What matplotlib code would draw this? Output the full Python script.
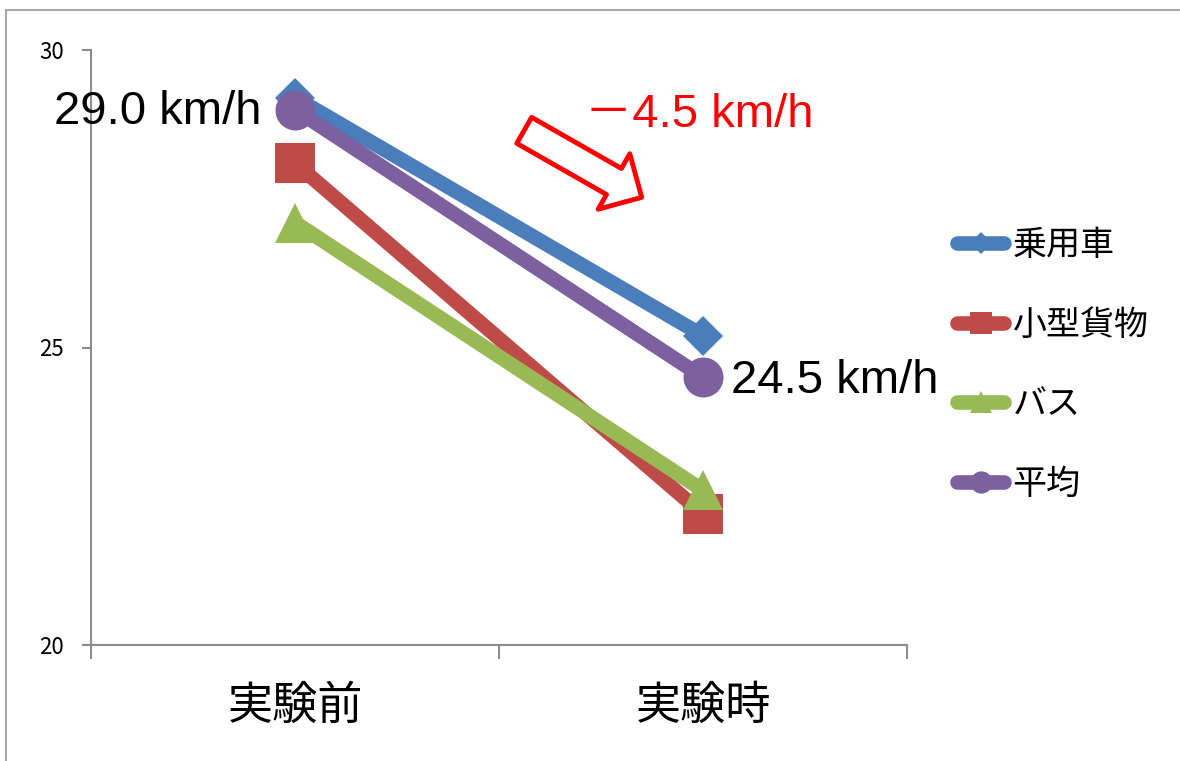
import matplotlib
matplotlib.use("Agg")
import matplotlib.pyplot as plt
from matplotlib.lines import Line2D
from matplotlib.patches import Rectangle

plt.rcParams['font.family'] = ['Noto Sans CJK JP', 'DejaVu Sans']

# travel speed (km/h) before / during the experiment
categories = ['実験前', '実験時']
series_names = ['乗用車', '小型貨物', 'バス', '平均']
passenger = [29.2, 25.2]
small_cargo = [28.1, 22.2]
bus = [27.1, 22.6]
average = [29.0, 24.5]

colors = ['#4A7EBB', '#BE4B48', '#98B954', '#7D60A0']
markers = ['D', 's', '^', 'o']
marker_sizes = [20, 28.8, 28.8, 28.8]
legend_marker_sizes = [11, 16, 16, 16]

W, H = 1180, 761
fig = plt.figure(figsize=(W / 100, H / 100), dpi=100)
ax = fig.add_axes([91 / W, (H - 645) / H, 816 / W, 595 / H])

x = list(range(len(categories)))
all_series = [passenger, small_cargo, bus, average]
for vals, c, m, ms in zip(all_series, colors, markers, marker_sizes):
    ax.plot(x, vals, color=c, lw=10.5, marker=m, ms=ms, mew=0,
            solid_capstyle='round', solid_joinstyle='round')

ax.set_xlim(-0.5, 1.5)
ax.set_ylim(20, 30)
ax.set_yticks([20, 25, 30])
ax.set_xticks(x)
ax.set_xticklabels(categories, fontsize=32.5)
ax.set_xticks([-0.5, 0.5, 1.5], minor=True)

axis_gray = '#8C8C8C'
for side in ['top', 'right']:
    ax.spines[side].set_visible(False)
for side in ['left', 'bottom']:
    ax.spines[side].set_color(axis_gray)
    ax.spines[side].set_linewidth(1.5)
ax.tick_params(axis='x', which='major', length=0, pad=27)
ax.tick_params(axis='x', which='minor', length=10, width=1.5,
               color=axis_gray, direction='out')
ax.tick_params(axis='y', length=6.5, width=1.5, color=axis_gray,
               labelsize=16, pad=13)

# speed labels on the average series
label_font = ['Liberation Sans', 'Noto Sans CJK JP']
ax.annotate(f'{average[0]:.1f} km/h', xy=(0, average[0]), xytext=(-24, -10.5),
            textcoords='offset points', ha='right', va='baseline',
            fontsize=34, family=label_font)
ax.annotate(f'{average[1]:.1f} km/h', xy=(1, average[1]), xytext=(20, -11),
            textcoords='offset points', ha='left', va='baseline',
            fontsize=34, family=label_font)

# drop of the average speed with a hollow arrow
drop = average[0] - average[1]
ax.text(0.605, 0.8706, f'－{drop:.1f} km/h', transform=ax.transAxes,
        ha='left', va='baseline', fontsize=34, color='red', family=label_font)
ax.annotate('', xy=(0.6749, 0.7524), xycoords='axes fraction',
            xytext=(0.5309, 0.8650), textcoords='axes fraction',
            arrowprops=dict(arrowstyle='simple,head_length=23,head_width=46,tail_width=21.6',
                            mutation_scale=1, fc='white', ec='red', lw=3.5,
                            shrinkA=0, shrinkB=0))

handles = [Line2D([], [], color=c, lw=10.5, marker=m, ms=ms, mew=0,
                  solid_capstyle='round')
           for c, m, ms in zip(colors, markers, legend_marker_sizes)]
fig.legend(handles, series_names, loc='center left',
           bbox_to_anchor=(957.5 / W, 1 - 365 / H), frameon=False,
           fontsize=24.5, handlelength=1.38, handletextpad=0.24,
           labelspacing=1.31, borderpad=0, borderaxespad=0)

# thin frame around the chart area
fig.add_artist(Rectangle((6 / W, -0.1), 1.2, 1.1 - 10 / H,
                         transform=fig.transFigure, fill=False,
                         ec='#A8A8A8', lw=1.5))

fig.savefig('out.png', dpi=100)
